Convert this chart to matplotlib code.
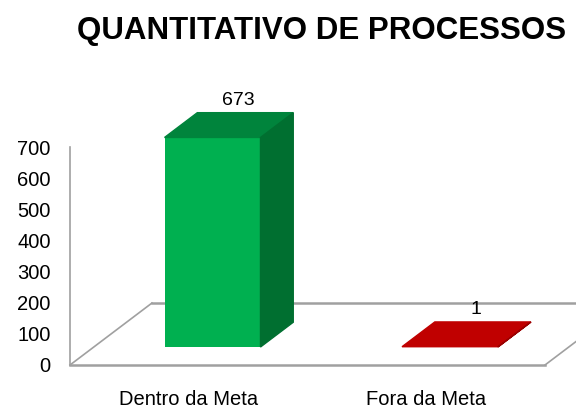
import matplotlib
matplotlib.use("Agg")
import matplotlib.pyplot as plt
from matplotlib.patches import Polygon

categories = ["Dentro da Meta", "Fora da Meta"]
values = [673, 1]
front_colors = ["#00B050", "#C00000"]
top_colors = ["#00843C", "#C00000"]
side_colors = ["#006F30", "#9A0000"]
yticks = [0, 100, 200, 300, 400, 500, 600, 700]
title = "QUANTITATIVO DE PROCESSOS"

fig = plt.figure(figsize=(5.76, 4.09), dpi=100)
ax = fig.add_axes([70 / 576, 44 / 409, 475 / 576, 265 / 409])
ax.set_xlim(-0.5, 1.5)
ax.set_ylim(0, 851)

# fake 3d depth, in data units
ddx, ddy = 0.345, 199
f0, f1 = 0.29, 0.69
w = 0.404
gray = "#A0A0A0"

# floor
x_lo, x_hi = -0.5, 1.5
ax.plot([x_lo, x_hi], [0, 0], color=gray, lw=1.8, clip_on=False)
ax.plot([x_lo, x_lo + ddx], [0, ddy], color=gray, lw=1.2, clip_on=False)
ax.plot([x_lo + ddx, x_hi + ddx], [ddy, ddy], color=gray, lw=1.8, clip_on=False)
ax.plot([x_hi, x_hi + ddx], [0, ddy], color=gray, lw=1.2, clip_on=False)
ax.plot([x_lo, x_lo], [0, yticks[-1]], color=gray, lw=1.2, clip_on=False)

bdx, bdy = (f1 - f0) * ddx, (f1 - f0) * ddy
for i, v in enumerate(values):
    x0 = i - w / 2 + f0 * ddx
    y0 = f0 * ddy
    ax.bar(x0 + w / 2, v, width=w, bottom=y0, color=front_colors[i], zorder=3)
    top = [(x0, y0 + v), (x0 + w, y0 + v), (x0 + w + bdx, y0 + v + bdy), (x0 + bdx, y0 + v + bdy)]
    side = [(x0 + w, y0), (x0 + w + bdx, y0 + bdy), (x0 + w + bdx, y0 + v + bdy), (x0 + w, y0 + v)]
    ax.add_patch(Polygon(top, closed=True, color=top_colors[i], zorder=3, clip_on=False))
    ax.add_patch(Polygon(side, closed=True, color=side_colors[i], zorder=3, clip_on=False))
    ax.annotate(str(v), (x0 + w / 2 + 0.8 * bdx, y0 + v + bdy), xytext=(0, 3),
                textcoords="offset points", ha="center", va="bottom",
                fontsize=14, family="Liberation Sans", zorder=4)

ax.set_yticks(yticks)
ax.set_yticklabels([str(t) for t in yticks], family="Liberation Sans", fontsize=14.5)
ax.set_xticks(range(len(categories)))
ax.set_xticklabels(categories, family="Liberation Sans", fontsize=14.5)
ax.tick_params(axis="y", length=0, pad=14)
ax.tick_params(axis="x", length=0, pad=18)
for s in ax.spines.values():
    s.set_visible(False)

fig.text(322 / 576, 1 - 31 / 409, title, ha="center", va="center",
         family="Liberation Sans", fontweight="bold", fontsize=22.5)

fig.savefig("out.png", dpi=100)
